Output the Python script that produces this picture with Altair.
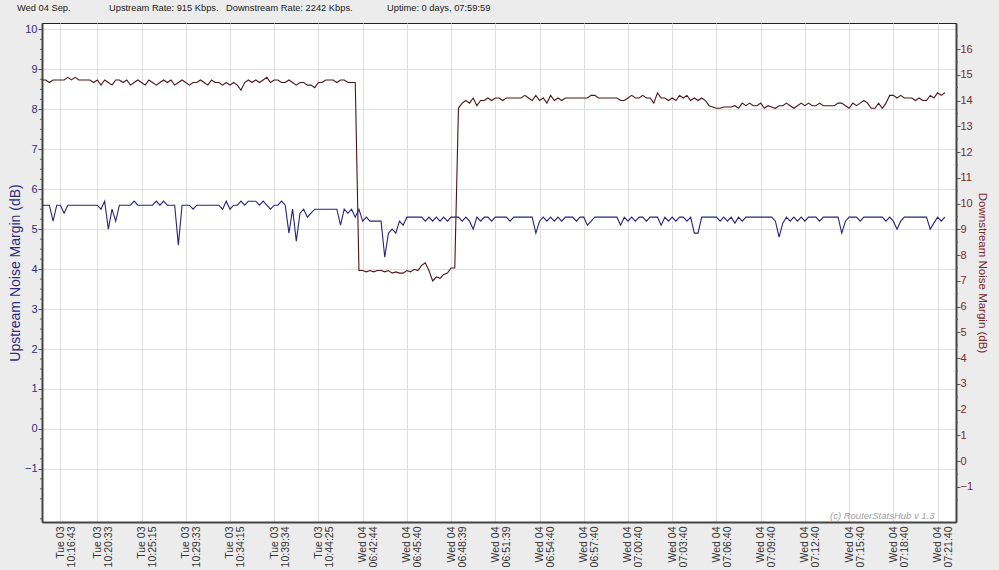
import altair as alt
import pandas as pd

# ---------------- data ----------------
upstream_db = [
    5.6, 5.6, 5.6, 5.2, 5.6, 5.6, 5.4, 5.6, 5.6, 5.6,
    5.6, 5.6, 5.6, 5.6, 5.6, 5.6, 5.5, 5.7, 5.0, 5.5,
    5.2, 5.6, 5.6, 5.6, 5.6, 5.7, 5.6, 5.6, 5.6, 5.6,
    5.6, 5.7, 5.6, 5.7, 5.6, 5.6, 5.6, 4.6, 5.6, 5.6,
    5.6, 5.5, 5.6, 5.6, 5.6, 5.6, 5.6, 5.6, 5.6, 5.5,
    5.7, 5.5, 5.6, 5.6, 5.7, 5.6, 5.7, 5.7, 5.7, 5.6,
    5.7, 5.6, 5.5, 5.6, 5.6, 5.7, 5.6, 4.9, 5.5, 4.7,
    5.4, 5.5, 5.3, 5.4, 5.5, 5.5, 5.5, 5.5, 5.5, 5.5,
    5.5, 5.1, 5.5, 5.4, 5.5, 5.3, 5.5, 5.2, 5.3, 5.2,
    5.2, 5.2, 5.2, 4.3, 4.9, 5.0, 4.9, 5.2, 5.1, 5.3,
    5.3, 5.3, 5.3, 5.3, 5.2, 5.3, 5.2, 5.3, 5.2, 5.3,
    5.2, 5.3, 5.3, 5.3, 5.2, 5.3, 5.2, 5.0, 5.3, 5.2,
    5.3, 5.3, 5.2, 5.3, 5.3, 5.3, 5.3, 5.2, 5.3, 5.3,
    5.3, 5.3, 5.3, 5.3, 4.9, 5.2, 5.3, 5.2, 5.3, 5.2,
    5.3, 5.2, 5.3, 5.3, 5.3, 5.2, 5.3, 5.3, 5.1, 5.2,
    5.3, 5.3, 5.3, 5.3, 5.3, 5.3, 5.3, 5.1, 5.3, 5.2,
    5.3, 5.2, 5.3, 5.3, 5.2, 5.3, 5.3, 5.3, 5.1, 5.3,
    5.2, 5.3, 5.2, 5.3, 5.3, 5.2, 5.3, 4.9, 4.9, 5.3,
    5.3, 5.3, 5.3, 5.3, 5.2, 5.3, 5.2, 5.3, 5.15, 5.3,
    5.2, 5.3, 5.3, 5.3, 5.3, 5.3, 5.3, 5.3, 5.3, 5.2,
    4.8, 5.15, 5.3, 5.2, 5.3, 5.2, 5.3, 5.2, 5.3, 5.3,
    5.3, 5.2, 5.3, 5.3, 5.3, 5.3, 5.3, 4.9, 5.2, 5.3,
    5.3, 5.3, 5.2, 5.3, 5.3, 5.3, 5.3, 5.3, 5.3, 5.2,
    5.3, 5.2, 5.0, 5.2, 5.3, 5.3, 5.3, 5.3, 5.3, 5.3,
    5.3, 5.0, 5.15, 5.3, 5.2, 5.3,
]

downstream_db = [
    14.8, 14.8, 14.7, 14.8, 14.8, 14.8, 14.8, 14.9, 14.8, 14.9,
    14.8, 14.8, 14.8, 14.8, 14.7, 14.8, 14.6, 14.8, 14.7, 14.6,
    14.8, 14.8, 14.7, 14.8, 14.6, 14.7, 14.8, 14.7, 14.6, 14.8,
    14.7, 14.6, 14.7, 14.8, 14.7, 14.8, 14.6, 14.7, 14.8, 14.7,
    14.6, 14.7, 14.7, 14.8, 14.7, 14.6, 14.8, 14.7, 14.7, 14.6,
    14.7, 14.6, 14.7, 14.6, 14.4, 14.7, 14.8, 14.7, 14.8, 14.7,
    14.8, 14.9, 14.7, 14.8, 14.8, 14.7, 14.7, 14.8, 14.7, 14.6,
    14.7, 14.7, 14.6, 14.6, 14.5, 14.7, 14.7, 14.8, 14.8, 14.8,
    14.7, 14.8, 14.8, 14.7, 14.7, 14.7, 7.4, 7.4, 7.35, 7.4,
    7.35, 7.4, 7.4, 7.35, 7.4, 7.3, 7.35, 7.3, 7.3, 7.4,
    7.35, 7.45, 7.4, 7.6, 7.7, 7.4, 7.0, 7.15, 7.1, 7.25,
    7.3, 7.5, 7.5, 13.7, 13.9, 14.0, 13.9, 14.1, 13.8, 14.0,
    14.0, 14.1, 14.0, 14.1, 14.1, 14.0, 14.1, 14.1, 14.1, 14.1,
    14.1, 14.2, 14.1, 14.0, 14.2, 14.0, 14.1, 13.9, 14.2, 14.0,
    14.1, 14.0, 14.1, 14.1, 14.1, 14.1, 14.1, 14.1, 14.1, 14.2,
    14.2, 14.1, 14.1, 14.1, 14.1, 14.1, 14.1, 14.0, 14.0, 14.1,
    14.2, 14.1, 14.1, 14.2, 14.1, 14.1, 13.9, 14.3, 14.1, 14.1,
    14.0, 14.1, 14.0, 14.2, 14.1, 14.2, 14.0, 14.1, 14.0, 14.1,
    14.0, 13.8, 13.75, 13.7, 13.7, 13.75, 13.75, 13.75, 13.8, 13.7,
    13.9, 13.8, 13.9, 13.8, 13.8, 13.9, 13.7, 13.8, 13.75, 13.7,
    13.8, 13.8, 13.9, 13.8, 13.7, 13.8, 13.9, 13.8, 13.9, 13.8,
    13.8, 13.9, 13.8, 13.8, 13.8, 13.8, 13.9, 13.9, 13.8, 13.7,
    13.9, 13.8, 13.9, 14.0, 13.9, 13.7, 13.7, 13.9, 13.7, 13.9,
    14.2, 14.2, 14.1, 14.2, 14.1, 14.1, 14.1, 14.0, 14.1, 14.0,
    14.0, 14.2, 14.1, 14.3, 14.2, 14.3,
]

sample_index = list(range(len(upstream_db)))

x_tick_index = [5, 15, 27, 39, 51, 63, 75, 87, 99, 111, 123,
                135, 147, 159, 171, 183, 195, 207, 219, 231, 243]
x_tick_day = ["Tue 03"] * 7 + ["Wed 04"] * 14
x_tick_time = ["10:16:43", "10:20:33", "10:25:15", "10:29:33", "10:34:15",
               "10:39:34", "10:44:25", "06:42:44", "06:45:40", "06:48:39",
               "06:51:39", "06:54:40", "06:57:40", "07:00:40", "07:03:40",
               "07:06:40", "07:09:40", "07:12:40", "07:15:40", "07:18:40",
               "07:21:40"]

left_ticks = list(range(-1, 11))
right_ticks = list(range(-1, 17))
left_minor = [v / 4 for v in range(-9, 41) if v % 4 != 0]
right_minor = [v / 2 for v in range(-4, 34) if v % 2 != 0]

header_date = "Wed 04 Sep."
header_up = "Upstream Rate: 915 Kbps."
header_down = "Downstream Rate: 2242 Kbps."
header_uptime = "Uptime: 0 days, 07:59:59"
watermark = "(c) RouterStatsHub  v 1.3"

# ---------------- styling ----------------
FONT = "Liberation Sans"
US_COLOR = "#25257f"
DS_COLOR = "#4f1414"
LEFT_TXT = "#2c2c7c"
RIGHT_TXT = "#7a2a2a"
W, H = 914, 499

df = pd.DataFrame({"idx": sample_index, "us": upstream_db, "ds": downstream_db})

label_expr = (
    "[" + ",".join(f"['{d}','{t}']" for d, t in zip(x_tick_day, x_tick_time)) + "]"
    + "[indexof(" + str(x_tick_index) + ", datum.value)]"
)

x_enc = alt.X(
    "idx:Q",
    scale=alt.Scale(domain=[0, 248], nice=False, zero=False),
    axis=alt.Axis(
        values=x_tick_index, labelExpr=label_expr, labelAngle=270,
        title=None, grid=True, gridColor="#dedede", tickSize=0,
        labelPadding=4, labelFontSize=10.5, labelColor="#333333",
        labelLineHeight=11, labelOverlap=False, labelFont=FONT,
        domainColor="#444444", domainWidth=2,
    ),
)

left_scale = alt.Scale(domain=[-2.33, 10.16], nice=False, zero=False)
right_scale = alt.Scale(domain=[-2.36, 17.01], nice=False, zero=False)

left_axis = alt.Axis(
    orient="left", values=left_ticks, title="Upstream Noise Margin (dB)",
    titleColor=LEFT_TXT, titleFont=FONT, titleFontSize=14, titleFontWeight="normal",
    titlePadding=2, labelColor=LEFT_TXT, labelFont=FONT, labelFontSize=11,
    labelPadding=1, tickSize=4, tickColor="#555555", grid=True, gridColor="#dedede",
    domainColor="#444444", domainWidth=2,
)
right_axis = alt.Axis(
    orient="right", values=right_ticks, title="Downstream Noise Margin (dB)",
    titleColor=RIGHT_TXT, titleFont=FONT, titleFontSize=11.5, titleFontWeight="normal",
    titlePadding=4, labelColor=RIGHT_TXT, labelFont=FONT, labelFontSize=11,
    labelPadding=0, tickSize=4, tickColor="#555555", grid=False,
    domainColor="#444444", domainWidth=2,
)

us_line = alt.Chart(df).mark_line(color=US_COLOR, strokeWidth=1.1, interpolate="linear").encode(
    x=x_enc, y=alt.Y("us:Q", scale=left_scale, axis=left_axis)
)
left_minor_rules = alt.Chart(pd.DataFrame({"us": left_minor})).mark_rule(
    color="#555555", strokeWidth=1
).encode(x=alt.value(-2), x2=alt.value(0), y=alt.Y("us:Q", scale=left_scale, axis=left_axis))

ds_line = alt.Chart(df).mark_line(color=DS_COLOR, strokeWidth=1.1, interpolate="linear").encode(
    x=x_enc, y=alt.Y("ds:Q", scale=right_scale, axis=right_axis)
)
right_minor_rules = alt.Chart(pd.DataFrame({"ds": right_minor})).mark_rule(
    color="#555555", strokeWidth=1
).encode(x=alt.value(W), x2=alt.value(W + 2), y=alt.Y("ds:Q", scale=right_scale, axis=right_axis))

left_group = alt.layer(us_line, left_minor_rules)
right_group = alt.layer(ds_line, right_minor_rules)


def text_mark(txt, xpx, ypx, **kw):
    return alt.Chart(pd.DataFrame({"t": [txt]})).mark_text(
        font=FONT, align="left", baseline="middle", **kw
    ).encode(text="t:N", x=alt.value(xpx), y=alt.value(ypx))


hdr_kw = dict(fontSize=9.3, color="#1a1a1a")
headers = [
    text_mark(header_date, 17 - 42, 8 - 23, **hdr_kw),
    text_mark(header_up, 109 - 42, 8 - 23, **hdr_kw),
    text_mark(header_down, 226 - 42, 8 - 23, **hdr_kw),
    text_mark(header_uptime, 387 - 42, 8 - 23, **hdr_kw),
]
wm = text_mark(watermark, 830 - 42, H - 6, fontSize=9.5, fontStyle="italic", color="#a0a0a0")

chart = alt.layer(left_group, right_group, *headers, wm).resolve_scale(
    y="independent"
).properties(
    width=W, height=H, background="#ececec",
    padding={"left": 42, "top": 23, "right": 43, "bottom": 48},
    autosize=alt.AutoSizeParams(type="none"),
).configure_view(
    fill="white", stroke="#222222", strokeWidth=1
)

chart.save("out.html", embed_options={"renderer": "svg", "actions": False})
